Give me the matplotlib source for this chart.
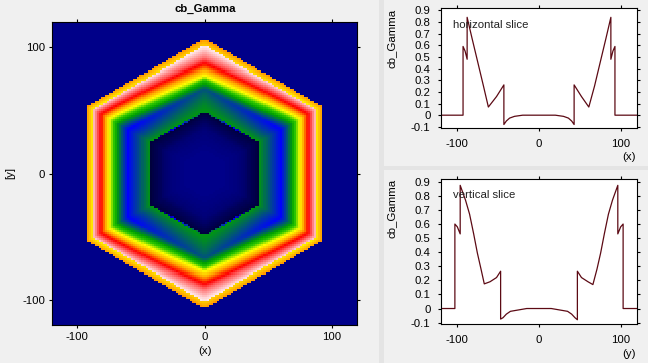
import numpy as np
import matplotlib
matplotlib.use('Agg')
import matplotlib.pyplot as plt
from matplotlib.colors import LinearSegmentedColormap
from matplotlib.patches import Rectangle

plt.rcParams['font.family'] = ['Liberation Sans', 'DejaVu Sans']
plt.rcParams['font.size'] = 8.2
plt.rcParams['axes.unicode_minus'] = False

# slices
horiz_x = [-120, -93, -93, -90.5, -88, -88, -82, -75.5, -68, -62, -52, -43, -43, -40, -36, -30, -20, -10,
           10, 20, 30, 36, 40, 43, 43, 52, 61, 68, 75.5, 82, 88, 88, 90.5, 93, 93, 120]
horiz_v = [0, 0, 0.59, 0.55, 0.48, 0.84, 0.66, 0.47, 0.25, 0.07, 0.16, 0.26, -0.08, -0.05, -0.025, -0.01, 0, 0,
           0, 0, -0.01, -0.025, -0.05, -0.08, 0.26, 0.16, 0.07, 0.25, 0.47, 0.66, 0.84, 0.48, 0.55, 0.59, 0, 0]
vert_y = [-120, -103, -103, -100, -96.5, -96.5, -90, -85, -80, -75.5, -71, -67, -60, -52, -47, -47, -44, -40, -35, -25, -15,
          15, 25, 35, 40, 44, 47, 47, 52, 60, 66, 71, 75.5, 80, 85, 90, 96.5, 96.5, 100, 103, 103, 120]
vert_v = [0, 0, 0.6, 0.58, 0.53, 0.875, 0.77, 0.67, 0.53, 0.395, 0.28, 0.175, 0.19, 0.22, 0.265, -0.075, -0.065, -0.04, -0.02, -0.01, 0,
          0, -0.01, -0.02, -0.04, -0.065, -0.08, 0.265, 0.22, 0.19, 0.17, 0.28, 0.395, 0.53, 0.67, 0.77, 0.875, 0.53, 0.58, 0.6, 0, 0]

# radial profile of the hexagon, along the top corner and along the left/right sides
corner_u = [0, 0.15, 0.25, 0.33, 0.38, 0.43, 0.455, 0.4551, 0.55, 0.63, 0.69, 0.725, 0.815, 0.86, 0.95, 0.9501, 0.98, 1.0, 1.0001, 1.3]
corner_v = [0, 0, -0.01, -0.02, -0.04, -0.065, -0.08, 0.265, 0.22, 0.175, 0.33, 0.47, 0.70, 0.78, 0.875, 0.53, 0.57, 0.6, 0, 0]
side_u = [0, 0.15, 0.25, 0.33, 0.38, 0.43, 0.465, 0.4651, 0.56, 0.65, 0.735, 0.81, 0.875, 0.95, 0.9501, 0.98, 1.0, 1.0001, 1.3]
side_v = [0, 0, -0.01, -0.025, -0.05, -0.065, -0.08, 0.26, 0.16, 0.07, 0.25, 0.47, 0.68, 0.84, 0.48, 0.55, 0.59, 0, 0]

color_pos = [-0.1, 0.0, 0.07, 0.27, 0.36, 0.47, 0.58, 0.70, 0.85, 0.9]
color_hex = ['#00002a', '#00008b', '#0000ff', '#00a000', '#30c800', '#ffff00', '#ffa500', '#ff0000', '#ffd8d8', '#ffffff']

cmap = LinearSegmentedColormap.from_list('gamma', [((p + 0.1) / 1.0, c) for p, c in zip(color_pos, color_hex)])

edges = np.linspace(-120, 120, 151)
cx = (edges[:-1] + edges[1:]) / 2
X, Y = np.meshgrid(cx, cx)
u = np.maximum(np.abs(X) * 2 / np.sqrt(3), np.abs(X) / np.sqrt(3) + np.abs(Y)) / 106.8
# corner profile only near the vertical axis, side profile everywhere else
t = np.clip(np.abs(X) / (0.8 * u * 106.8 + 1e-6), 0, 1)
field = (1 - t) * np.interp(u, corner_u, corner_v) + t * np.interp(u, side_u, side_v)

W, H = 648.0, 363.0
BG = '#f0f0f0'
fig = plt.figure(figsize=(6.48, 3.63), dpi=100, facecolor=BG)


def make_axes(l, t_, r, b):
    return fig.add_axes([l / W, 1 - b / H, (r - l) / W, (b - t_) / H])


# splitters between the panels
fig.add_artist(Rectangle((379 / W, 0), 5 / W, 1, transform=fig.transFigure, color='#e4e4e4', lw=0))
fig.add_artist(Rectangle((384 / W, 1 - 170 / H), 264 / W, 4 / H, transform=fig.transFigure, color='#e4e4e4', lw=0))

ax = make_axes(52, 22, 357, 325)
ax.pcolormesh(edges, edges, field, cmap=cmap, vmin=-0.1, vmax=0.9, rasterized=True)
ax.set_xlim(-120, 120)
ax.set_ylim(-120, 120)
ax.set_xticks([-100, 0, 100])
ax.set_yticks([-100, 0, 100])
ax.tick_params(length=2, width=0.8, pad=3, top=True, right=True, labelsize=8.2)
fig.text(205 / W, 1 - 9 / H, 'cb_Gamma', ha='center', va='center', fontweight='bold', fontsize=8.2)
fig.text(205 / W, 1 - 351 / H, '(x)', ha='center', va='center')
fig.text(10 / W, 1 - 173 / H, '[y]', ha='center', va='center', rotation=90)

yticks = [-0.1, 0, 0.1, 0.2, 0.3, 0.4, 0.5, 0.6, 0.7, 0.8, 0.9]
ylabels = ['-0.1', '0', '0.1', '0.2', '0.3', '0.4', '0.5', '0.6', '0.7', '0.8', '0.9']

slices = [
    (make_axes(441, 8, 637, 128), horiz_x, horiz_v, 'horizontal slice', '(x)', 157, 38),
    (make_axes(441, 179, 637, 324), vert_y, vert_v, 'vertical slice', '(y)', 354, 208),
]
for a, xs, vs, note, xname, name_y, label_y in slices:
    a.plot(xs, vs, color='#5c0a14', lw=0.9)
    a.set_xlim(-120, 120)
    a.set_ylim(-0.11, 0.92)
    a.set_xticks([-100, 0, 100])
    a.set_yticks(yticks)
    a.set_yticklabels(ylabels)
    a.tick_params(length=2, width=0.8, top=True, right=True, labelsize=8.2)
    a.tick_params(axis='x', pad=6)
    a.tick_params(axis='y', pad=5.5)
    a.text(0.06, 0.86 if note.startswith('h') else 0.89, note, transform=a.transAxes, va='center', color='#222222')
    fig.text(629 / W, 1 - name_y / H, xname, ha='center', va='center')
    fig.text(392 / W, 1 - label_y / H, 'cb_Gamma', ha='center', va='center', rotation=90)

fig.savefig('out.png', dpi=100, facecolor=BG)
